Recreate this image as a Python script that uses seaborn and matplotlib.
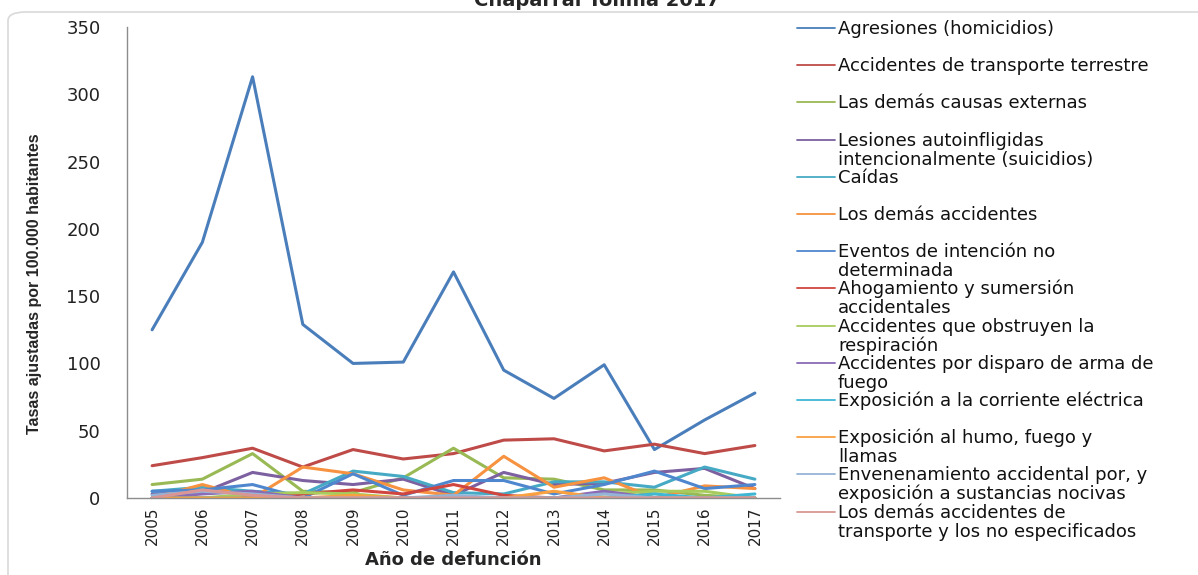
import numpy as np
import pandas as pd
import seaborn as sns
import matplotlib.pyplot as plt
from matplotlib.patches import FancyBboxPatch
from matplotlib.lines import Line2D
from matplotlib.ticker import FixedLocator

# data (tasas por 100.000 habitantes)
years = [2005, 2006, 2007, 2008, 2009, 2010, 2011, 2012, 2013, 2014, 2015, 2016, 2017]

agresiones = [125, 190, 313, 129, 100, 101, 168, 95, 74, 99, 36, 58, 78]
transporte_terrestre = [24, 30, 37, 23, 36, 29, 33, 43, 44, 35, 40, 33, 39]
demas_causas = [10, 14, 33, 5, 4, 15, 37, 15, 14, 6, 6, 2, 0]
suicidios = [3, 4, 19, 13, 10, 14, 2, 19, 10, 11, 19, 22, 7]
caidas = [5, 8, 5, 3, 20, 16, 4, 3, 12, 12, 8, 23, 14]
demas_accidentes = [0, 10, 0, 23, 18, 6, 2, 31, 8, 15, 0, 9, 7]
intencion_no_det = [5, 6, 10, 0, 18, 2, 13, 13, 3, 10, 20, 7, 10]
ahogamiento = [0, 0, 0, 3, 6, 3, 10, 2, 0, 0, 0, 0, 0]
obstruyen = [0, 0, 3, 4, 3, 0, 0, 0, 0, 3, 5, 5, 0]
disparo = [0, 3, 5, 0, 0, 0, 0, 0, 0, 5, 0, 0, 0]
corriente = [0, 0, 0, 0, 0, 0, 0, 0, 0, 0, 3, 0, 3]
humo = [0, 0, 0, 0, 2, 0, 0, 0, 5, 0, 0, 0, 0]
envenenamiento = [2, 5, 3, 0, 0, 0, 2, 0, 0, 3, 0, 0, 0]
demas_transporte = [0, 6, 2, 0, 0, 0, 0, 0, 0, 0, 0, 0, 0]

causas = [
    "Agresiones (homicidios)",
    "Accidentes de transporte terrestre",
    "Las demás causas externas",
    "Lesiones autoinfligidas\nintencionalmente (suicidios)",
    "Caídas",
    "Los demás accidentes",
    "Eventos de intención no\ndeterminada",
    "Ahogamiento y sumersión\naccidentales",
    "Accidentes que obstruyen la\nrespiración",
    "Accidentes por disparo de arma de\nfuego",
    "Exposición a la corriente eléctrica",
    "Exposición al humo, fuego y\nllamas",
    "Envenenamiento accidental por, y\nexposición a sustancias nocivas",
    "Los demás accidentes de\ntransporte y los no especificados",
]
series = [agresiones, transporte_terrestre, demas_causas, suicidios, caidas,
          demas_accidentes, intencion_no_det, ahogamiento, obstruyen, disparo,
          corriente, humo, envenenamiento, demas_transporte]

colores = ["#4A7EBB", "#BE4B48", "#98B954", "#7D60A0", "#46AAC5", "#F69240",
           "#4F87CF", "#D0463F", "#A8CB5E", "#8A6BB5", "#3FB6D4", "#F9A040",
           "#95B3D7", "#D99694"]

df = pd.DataFrame({
    "anio": np.tile(years, len(causas)),
    "causa": np.repeat(causas, len(years)),
    "tasa": np.concatenate(series),
})

sns.set_style("white")
plt.rcParams["font.family"] = ["DejaVu Sans"]

W, H = 1198, 575
fig = plt.figure(figsize=(W / 100, H / 100), dpi=100)
ax = fig.add_axes([127 / W, 1 - 498 / H, 653 / W, 471 / H])

# light rounded frame of the original chart object
frame = FancyBboxPatch((8 / W, -0.1), 1.2, 1.1 - 12 / H,
                       boxstyle="round,pad=0,rounding_size=0.015",
                       transform=fig.transFigure, facecolor="none",
                       edgecolor="#D9D9D9", lw=1.2, zorder=0)
fig.patches.append(frame)

sns.lineplot(data=df, x="anio", y="tasa", hue="causa", hue_order=causas,
             palette=dict(zip(causas, colores)), linewidth=2.2, sort=False,
             legend=False, ax=ax)

ax.set_xlim(2004.5, 2017.5)
ax.set_ylim(0, 350)
ax.set_yticks(range(0, 351, 50))
ax.set_xticks(years)
ax.set_xticklabels([str(y) for y in years], rotation=90, fontsize=11, color="#222222")
ax.xaxis.set_minor_locator(FixedLocator(np.arange(2004.5, 2018, 1)))
ax.tick_params(axis="x", which="major", length=0, pad=6)
ax.tick_params(axis="x", which="minor", length=5, color="#888888", width=1, direction="out")
ax.tick_params(axis="y", length=5, color="#888888", width=1, direction="out",
               labelsize=13, labelcolor="#222222", pad=14)

for s in ["top", "right"]:
    ax.spines[s].set_visible(False)
for s in ["left", "bottom"]:
    ax.spines[s].set_color("#8C8C8C")
    ax.spines[s].set_linewidth(1)

ax.set_xlabel("Año de defunción", fontsize=13, fontweight="bold", labelpad=4)
ax.set_ylabel("Tasas ajustadas por 100.000 habitantes", fontsize=11.5,
              fontweight="bold", family=["Liberation Sans", "DejaVu Sans"])
ax.yaxis.set_label_coords(-0.13, 0.455)

# legend laid out like the Excel original: one fixed slot per entry,
# wrapped second lines run into the next slot
slot = 37.2
for i, (lab, col) in enumerate(zip(causas, colores)):
    yc = 28 + i * slot
    fig.add_artist(Line2D([797 / W, 835 / W], [1 - yc / H, 1 - yc / H],
                          color=col, lw=1.3, transform=fig.transFigure))
    for j, linea in enumerate(lab.split("\n")):
        fig.text(838 / W, 1 - (yc + 6 + 19 * j) / H, linea, ha="left",
                 va="baseline", fontsize=13, color="#111111")

# title, mostly cut off at the top edge as in the source image
fig.text(597 / W, 1 - 6 / H, "Chaparral Tolima 2017", ha="center",
         va="baseline", fontsize=14, fontweight="bold")

fig.savefig("out.png", dpi=100)
